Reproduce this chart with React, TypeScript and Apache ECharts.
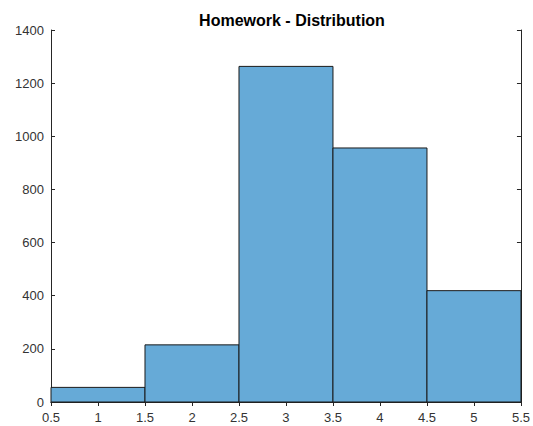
import React, { useEffect, useRef } from "react";
import * as echarts from "echarts";

const binEdges = [0.5, 1.5, 2.5, 3.5, 4.5, 5.5];
const counts = [55, 215, 1263, 956, 419];
const titleText = "Homework - Distribution";

export default function App() {
  const ref = useRef<HTMLDivElement>(null);
  useEffect(() => {
    if (!ref.current) return;
    const chart = echarts.init(ref.current, undefined, { renderer: "svg" });
    const data = counts.map((c, i) => [binEdges[i], binEdges[i + 1], c]);
    const axisLine = { show: true, lineStyle: { color: "#262626", width: 1 } };
    const axisLabel = {
      color: "#333333",
      fontSize: 13,
      fontFamily: "Liberation Sans, Arial, sans-serif",
      formatter: (v: number) => String(v),
    };
    const tick = { show: true, inside: true, length: 4, lineStyle: { color: "#262626" } };
    chart.setOption({
      animation: false,
      title: {
        text: titleText,
        left: 287,
        textAlign: "center",
        top: 7,
        textStyle: { fontSize: 16, fontWeight: "bold", color: "#000", fontFamily: "Liberation Sans, Arial, sans-serif" },
      },
      grid: { left: 51, right: 9, top: 30, bottom: 24, containLabel: false },
      xAxis: [
        {
          type: "value", min: 0.5, max: 5.5, interval: 0.5, position: "bottom",
          axisLine, axisTick: tick, axisLabel: { ...axisLabel, margin: 9 }, splitLine: { show: false },
        },
        {
          type: "value", min: 0.5, max: 5.5, interval: 0.5, position: "top",
          axisLine, axisTick: tick, axisLabel: { show: false }, splitLine: { show: false },
        },
      ],
      yAxis: [
        {
          type: "value", min: 0, max: 1400, interval: 200, position: "left",
          axisLine, axisTick: tick, axisLabel: { ...axisLabel, margin: 7 }, splitLine: { show: false },
        },
        {
          type: "value", min: 0, max: 1400, interval: 200, position: "right",
          axisLine, axisTick: tick, axisLabel: { show: false }, splitLine: { show: false },
        },
      ],
      series: [
        {
          type: "custom",
          xAxisIndex: 0,
          yAxisIndex: 0,
          data,
          encode: { x: [0, 1], y: 2 },
          renderItem: (params: any, api: any) => {
            const p0 = api.coord([api.value(0), api.value(2)]);
            const p1 = api.coord([api.value(1), 0]);
            return {
              type: "rect",
              shape: { x: p0[0], y: p0[1], width: p1[0] - p0[0], height: p1[1] - p0[1] },
              style: { fill: "#66AAD7", stroke: "#1a1a1a", lineWidth: 1 },
            };
          },
          z: 1,
        },
      ],
    });
    return () => chart.dispose();
  }, []);
  return (
    <div
      ref={ref}
      style={{ position: "fixed", left: 0, top: 0, width: 533, height: 426, background: "#fff" }}
    />
  );
}
